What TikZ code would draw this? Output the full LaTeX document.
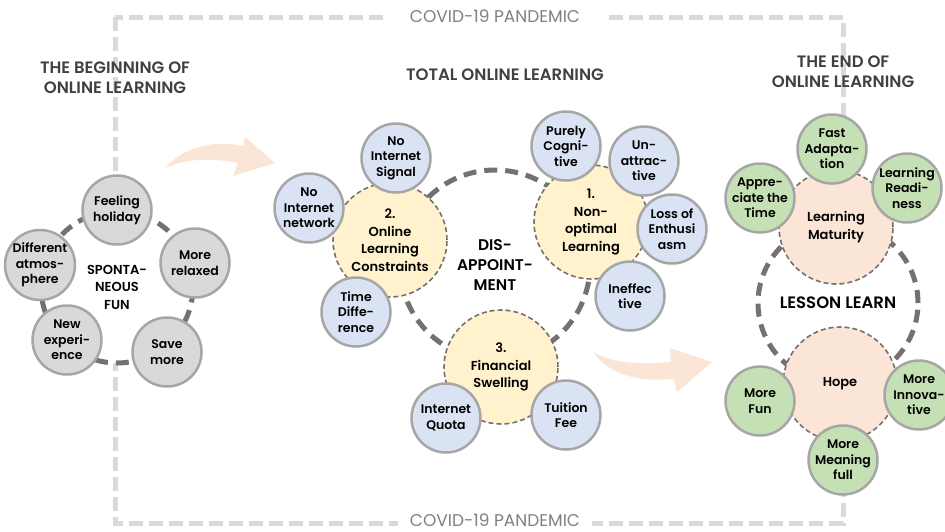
\documentclass[tikz,border=0pt]{standalone}
\usepackage{fontspec}
\setmainfont{Poppins}[BoldFont={Poppins SemiBold}]
\usepackage{xcolor}
\usepackage{tikz}
\usetikzlibrary{positioning}
\definecolor{frameGray}{HTML}{D9D9D9}
\definecolor{ringGray}{HTML}{767171}
\definecolor{rimGray}{HTML}{A6A6A6}
\definecolor{headGray}{HTML}{404040}
\definecolor{covidGray}{HTML}{808080}
\definecolor{fillGray}{HTML}{D9D9D9}
\definecolor{fillBlue}{HTML}{DAE3F3}
\definecolor{fillGreen}{HTML}{C5E0B4}
\definecolor{fillYellow}{HTML}{FFF2CC}
\definecolor{fillPeach}{HTML}{FBE5D6}
\newcommand{\leaffont}{\fontsize{12.5}{15.5}\selectfont\bfseries}
\newcommand{\themefont}{\fontsize{13}{17.5}\selectfont\bfseries}
\newcommand{\headfont}{\fontsize{16.5}{20}\selectfont\bfseries}
\tikzset{
  frame/.style={draw=frameGray, line width=5pt, dash pattern=on 14pt off 6pt},
  covid/.style={fill=white, text=covidGray, font=\fontsize{17}{19}\selectfont, inner sep=1pt},
  header/.style={text=headGray, align=center, font=\headfont},
  ring/.style={circle, draw=ringGray, fill=white, line width=5pt, dash pattern=on 13pt off 8pt, align=center, inner sep=0pt},
  theme/.style={circle, draw=ringGray, line width=1.6pt, dash pattern=on 5pt off 3pt, minimum size=114pt, inner sep=0pt, align=center, font=\themefont},
  leaf/.style={circle, draw=rimGray, line width=2.5pt, minimum size=69pt, inner sep=0pt, align=center, font=\leaffont},
  grayleaf/.style={leaf, fill=fillGray},
  blueleaf/.style={leaf, fill=fillBlue},
  greenleaf/.style={leaf, fill=fillGreen},
  bigarrow/.style={fill=fillPeach, draw=none}
}
\begin{document}
\begin{tikzpicture}[x=1pt, y=-1pt]
    \useasboundingbox (0,0) rectangle (945,531);
    % pandemic frame
    \draw[frame] (115,17) rectangle (843,523);
    \node[covid, inner xsep=27pt] (topcovid) at (495,16) {COVID-19 PANDEMIC};
    \node[covid, inner xsep=12pt, text depth=0pt, anchor=base] (botcovid) at (495,526) {COVID-19 PANDEMIC};

    % headers
    \node[header] (beginhead) at (115,78) {THE BEGINNING OF\\ONLINE LEARNING};
    \node[header] (totalhead) at (505,75) {TOTAL ONLINE LEARNING};
    \node[header] (endhead) at (843,72) {THE END OF\\ONLINE LEARNING};

    % transition arrows
    \fill[bigarrow] (165,168) .. controls (185,146) and (215,140) .. (243,146) -- (245,137) -- (275,163) -- (233,176) -- (238,163) .. controls (212,158) and (188,158) .. (165,168) -- cycle;
    \fill[bigarrow] (593,352) .. controls (612,363) and (640,365) .. (671,362) -- (670,348) -- (712,362) -- (677,392) -- (674,379) .. controls (640,382) and (610,376) .. (593,352) -- cycle;

    % beginning
    \node[ring, minimum size=152pt, font=\themefont] (fun) at (117,287) {SPONTA-\\NEOUS\\FUN};
    \node[grayleaf] (holiday) at (117,210) {Feeling\\holiday};
    \node[grayleaf] (relaxed) at (195,263) {More\\relaxed};
    \node[grayleaf] (save) at (167,352) {Save\\more};
    \node[grayleaf] (newexp) at (67,340) {New\\experi-\\ence};
    \node[grayleaf] (atmos) at (40,265) {Different\\atmos-\\phere};

    % total online learning
    \node[ring, minimum size=190pt, font=\fontsize{15.5}{20}\selectfont\bfseries] (disappoint) at (495,265) {DIS-\\APPOINT-\\MENT};
    \node[theme, fill=fillYellow] (constraints) at (390,240) {2.\\Online\\Learning\\Constraints};
    \node[theme, fill=fillYellow] (nonoptimal) at (591,222) {1.\\Non-\\optimal\\Learning};
    \node[theme, fill=fillYellow] (financial) at (501,367) {3.\\Financial\\Swelling};
    \node[blueleaf] (nonetwork) at (309,208) {No\\Internet\\network};
    \node[blueleaf] (nosignal) at (396,158) {No\\Internet\\Signal};
    \node[blueleaf] (timediff) at (356,312) {Time\\Diffe-\\rence};
    \node[blueleaf] (cognitive) at (566,146) {Purely\\Cogni-\\tive};
    \node[blueleaf] (unattractive) at (644,161) {Un-\\attrac-\\tive};
    \node[blueleaf] (enthusiasm) at (672,229) {Loss of\\Enthusi\\asm};
    \node[blueleaf] (ineffective) at (630,296) {Ineffec\\tive};
    \node[blueleaf] (quota) at (446,418) {Internet\\Quota};
    \node[blueleaf] (tuition) at (566,415) {Tuition\\Fee};

    % end of online learning
    \node[ring, minimum size=160pt, font=\fontsize{16.5}{18}\selectfont\bfseries] (lesson) at (838,303) {LESSON LEARN};
    \node[theme, fill=fillPeach] (maturity) at (836,227) {Learning\\Maturity};
    \node[theme, fill=fillPeach] (hope) at (840,384) {Hope};
    \node[greenleaf] (fastadapt) at (832,149) {Fast\\Adapta-\\tion};
    \node[greenleaf] (readiness) at (907,188) {Learning\\Readi-\\ness};
    \node[greenleaf] (appreciate) at (760,198) {Appre-\\ciate the\\Time};
    \node[greenleaf] (morefun) at (760,401) {More\\Fun};
    \node[greenleaf] (innovative) at (919,395) {More\\Innova-\\tive};
    \node[greenleaf] (meaningful) at (843,460) {More\\Meaning\\full};
\end{tikzpicture}
\end{document}
